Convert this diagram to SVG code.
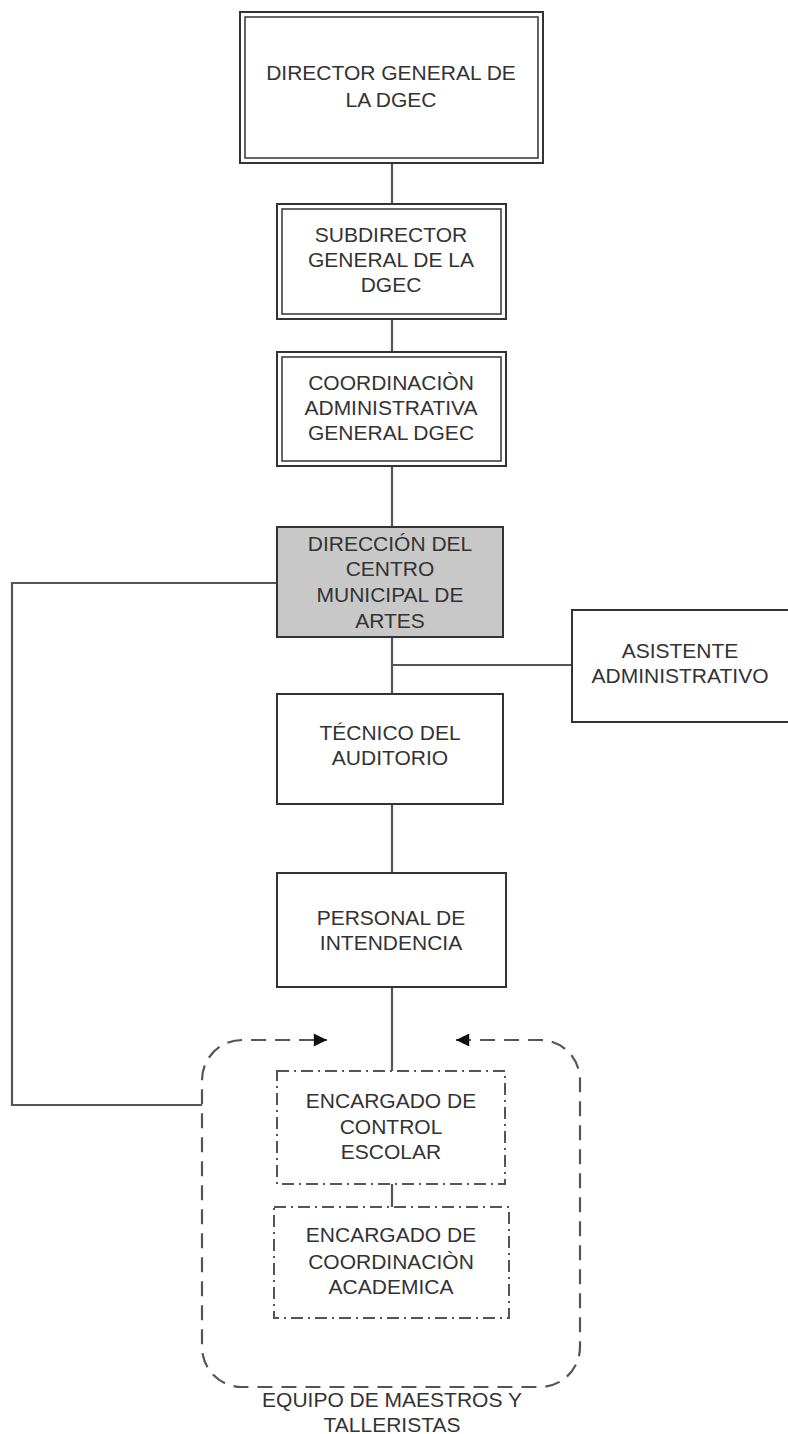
<svg xmlns="http://www.w3.org/2000/svg" width="788" height="1434" viewBox="0 0 788 1434">
<defs>
<style>
.t{font-family:"Liberation Sans",Arial,sans-serif;font-size:21px;fill:#333;text-anchor:middle}
.o{fill:#fff;stroke:#333;stroke-width:2}
.i{fill:none;stroke:#333;stroke-width:1.5}
.c{fill:none;stroke:#555;stroke-width:2.2}
.dd{fill:#fff;stroke:#555;stroke-width:2;stroke-dasharray:12 5 2 5}
</style>
<marker id="ah" viewBox="0 0 10 10" refX="10" refY="5" markerWidth="7" markerHeight="6" orient="auto-start-reverse" markerUnits="strokeWidth">
<path d="M0,0 L10,5 L0,10 z" fill="#111"/>
</marker>
</defs>
<g id="connectors">
<path class="c" d="M392,163 V204 M392,319 V352 M392,466 V527 M392,637 V694 M392,665 H572 M392,804 V873 M392,987 V1071 M392,1184 V1207"/>
<path class="c" d="M277,583 H12 V1105 H202"/>
</g>
<g id="group-equipo">
<path d="M456,1040 H540 A40,40 0 0 1 580,1080 V1347 A40,40 0 0 1 540,1387 H242 A40,40 0 0 1 202,1347 V1080 A40,40 0 0 1 242,1040 H327" fill="none" stroke="#555" stroke-width="2.2" stroke-dasharray="15 9" marker-start="url(#ah)" marker-end="url(#ah)"/>
<text class="t" x="392" y="1407">EQUIPO DE MAESTROS Y</text>
<text class="t" x="392" y="1432">TALLERISTAS</text>
</g>
<g id="director">
<rect class="o" x="240" y="12" width="303" height="151"/>
<rect class="i" x="245" y="17" width="293" height="141"/>
<text class="t" x="391" y="80">DIRECTOR GENERAL DE</text>
<text class="t" x="391" y="107">LA DGEC</text>
</g>
<g id="subdirector">
<rect class="o" x="277" y="204" width="229" height="115"/>
<rect class="i" x="282" y="209" width="219" height="105"/>
<text class="t" x="391" y="242">SUBDIRECTOR</text>
<text class="t" x="391" y="267">GENERAL DE LA</text>
<text class="t" x="391" y="292">DGEC</text>
</g>
<g id="coordinacion">
<rect class="o" x="277" y="352" width="229" height="114"/>
<rect class="i" x="282" y="357" width="219" height="104"/>
<text class="t" x="391" y="390">COORDINACIÒN</text>
<text class="t" x="391" y="415">ADMINISTRATIVA</text>
<text class="t" x="391" y="440">GENERAL DGEC</text>
</g>
<g id="direccion">
<rect x="277" y="527" width="226" height="110" fill="#c8c8c8" stroke="#333" stroke-width="2"/>
<text class="t" x="390" y="551">DIRECCIÓN DEL</text>
<text class="t" x="390" y="576">CENTRO</text>
<text class="t" x="390" y="602">MUNICIPAL DE</text>
<text class="t" x="390" y="628">ARTES</text>
</g>
<g id="asistente">
<rect class="o" x="572" y="610" width="220" height="112"/>
<text class="t" x="680" y="658">ASISTENTE</text>
<text class="t" x="680" y="683">ADMINISTRATIVO</text>
</g>
<g id="tecnico">
<rect class="o" x="277" y="694" width="226" height="110"/>
<text class="t" x="390" y="740">TÉCNICO DEL</text>
<text class="t" x="390" y="765">AUDITORIO</text>
</g>
<g id="personal">
<rect class="o" x="277" y="873" width="229" height="114"/>
<text class="t" x="391" y="925">PERSONAL DE</text>
<text class="t" x="391" y="950">INTENDENCIA</text>
</g>
<g id="control">
<rect class="dd" x="277" y="1071" width="228" height="113"/>
<text class="t" x="391" y="1108">ENCARGADO DE</text>
<text class="t" x="391" y="1134">CONTROL</text>
<text class="t" x="391" y="1159">ESCOLAR</text>
</g>
<g id="academica">
<rect class="dd" x="274" y="1207" width="235" height="111"/>
<text class="t" x="391" y="1242">ENCARGADO DE</text>
<text class="t" x="391" y="1269">COORDINACIÒN</text>
<text class="t" x="391" y="1294">ACADEMICA</text>
</g>
</svg>
